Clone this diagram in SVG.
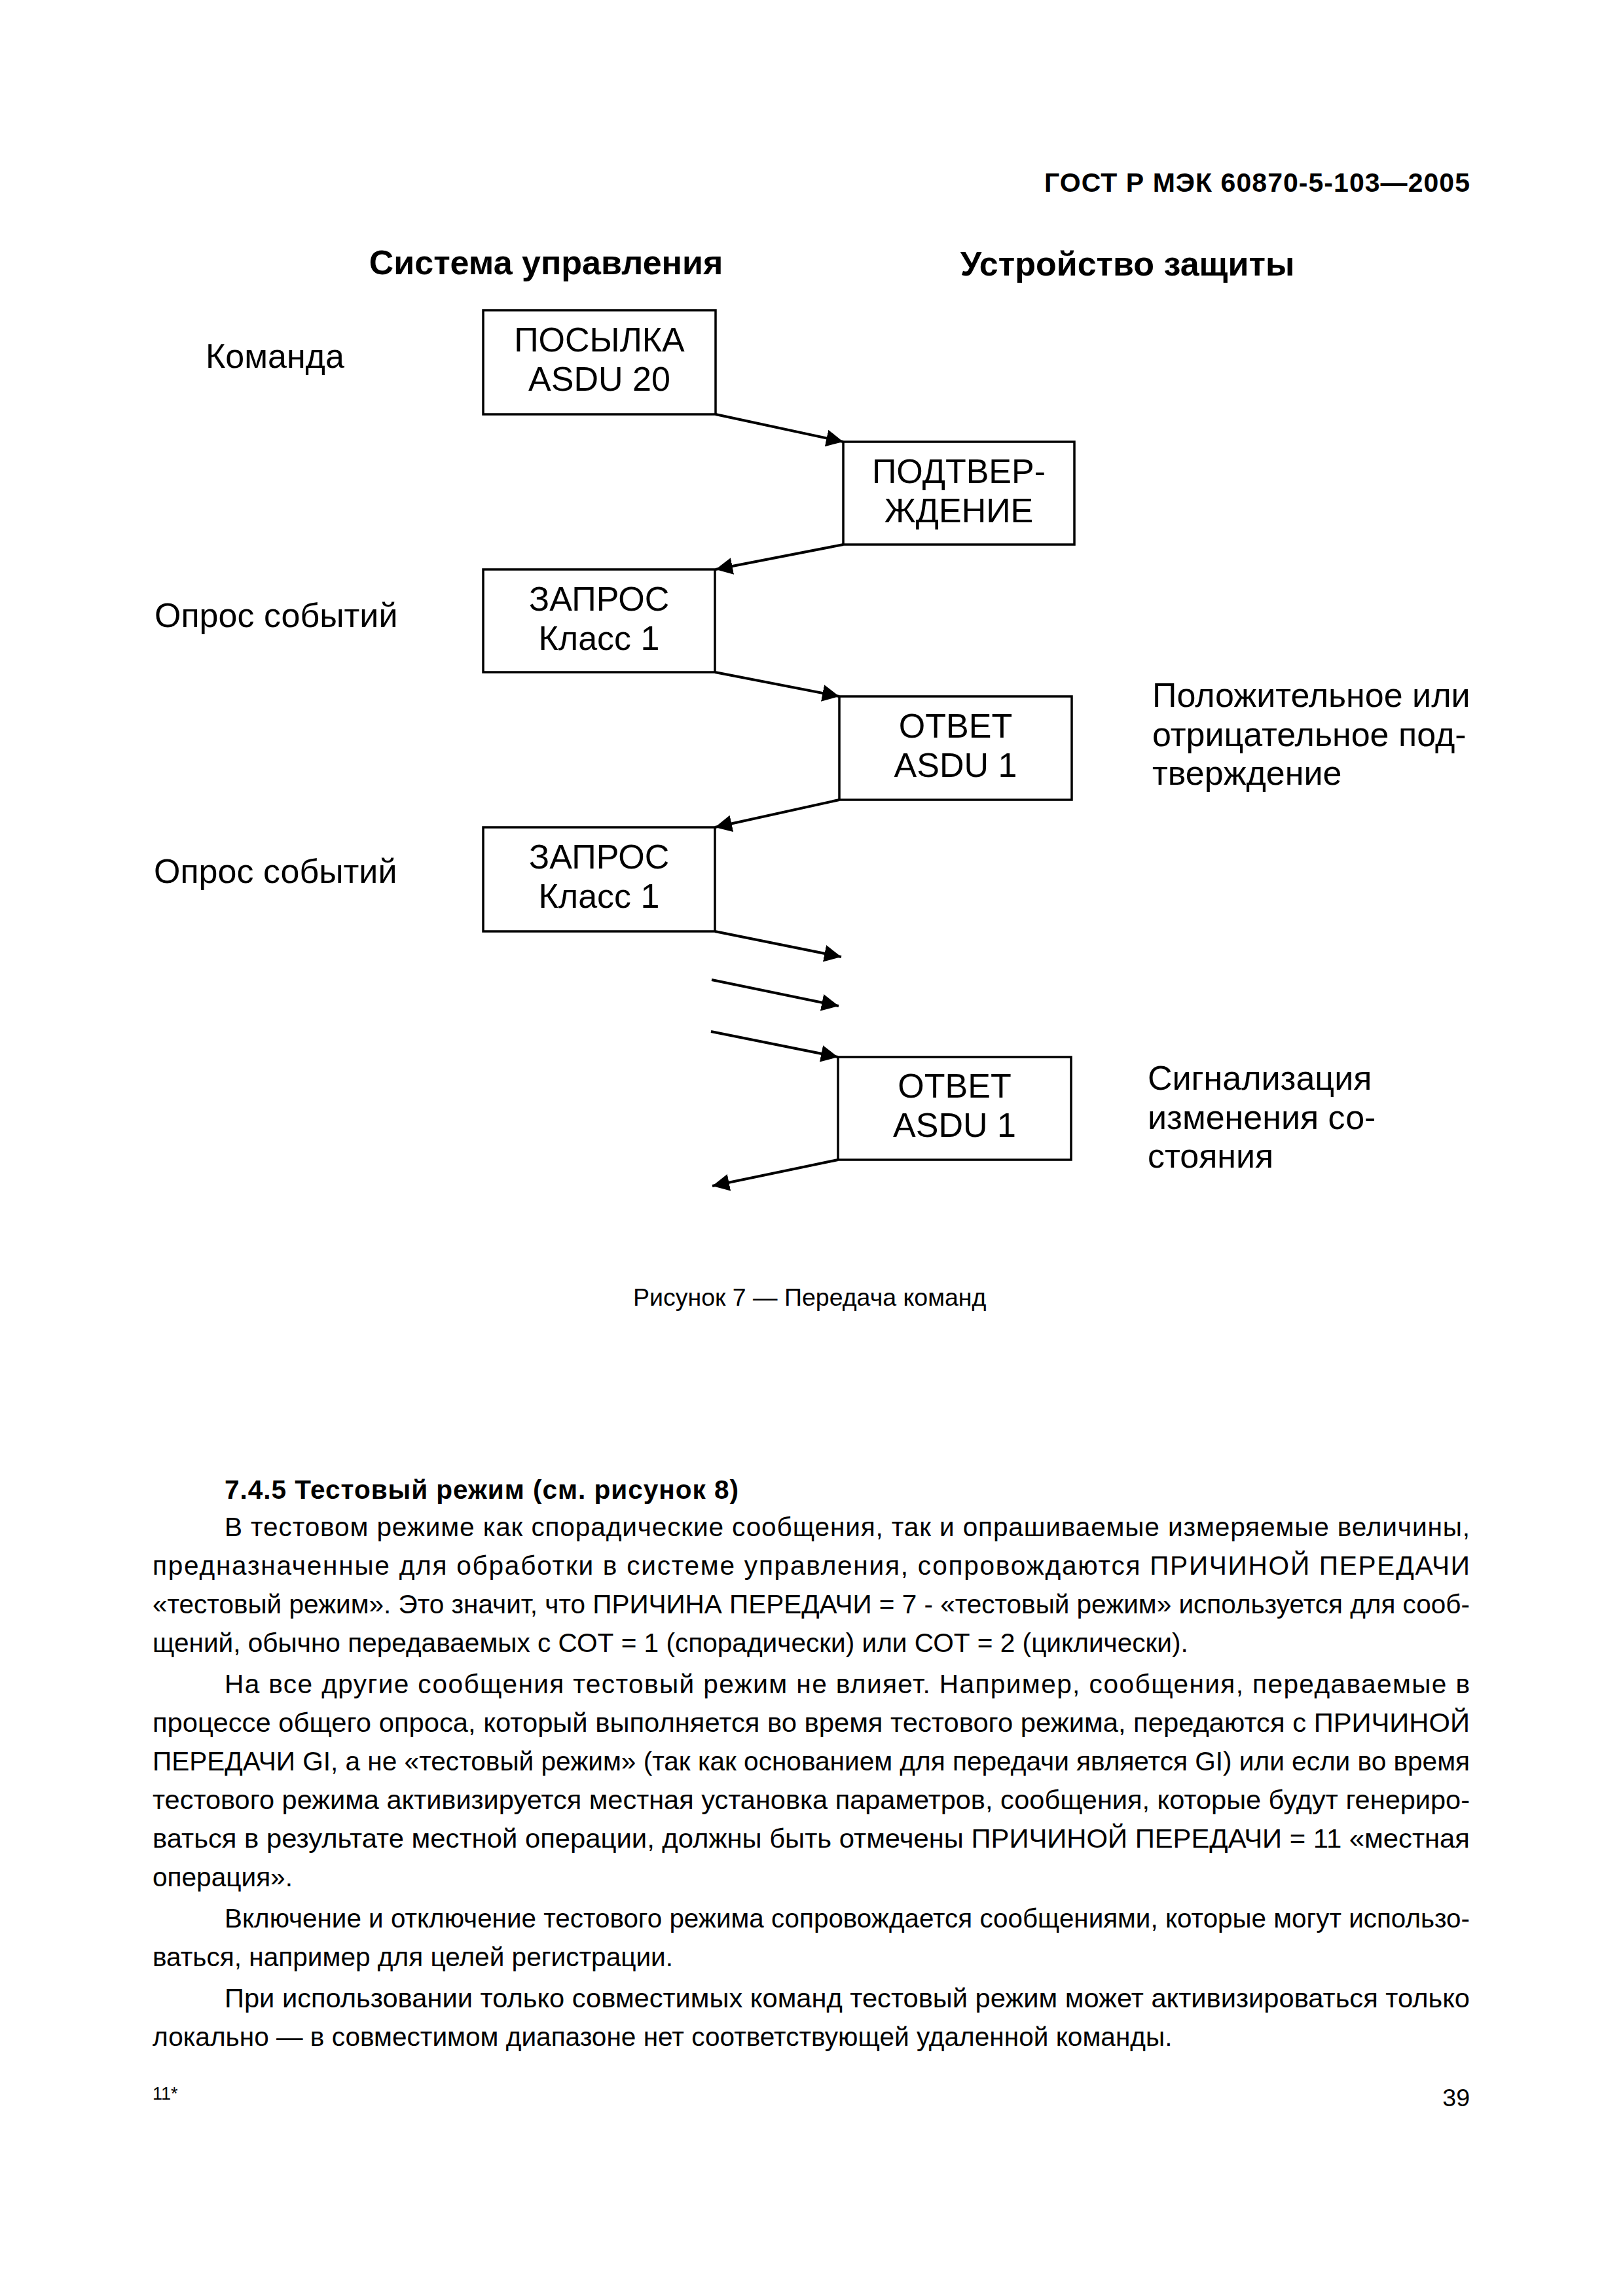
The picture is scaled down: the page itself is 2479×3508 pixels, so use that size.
<svg xmlns="http://www.w3.org/2000/svg" width="2479" height="3508" viewBox="0 0 2479 3508">
<style>
text{font-family:"Liberation Sans",Arial,sans-serif;fill:#000}
.hdr{font-size:41px;font-weight:bold}
.col{font-size:52px;font-weight:bold;text-anchor:middle}
.box{fill:#fff;stroke:#000;stroke-width:3.5}
.bt{font-size:52px;text-anchor:middle}
.lbl{font-size:52px}
.cap{font-size:37.5px}
.body{font-size:40.6px}
.bold{font-weight:bold}
.conn line{stroke:#000;stroke-width:4;marker-end:url(#ah)}
</style>
<defs>
<marker id="ah" markerUnits="userSpaceOnUse" markerWidth="28" markerHeight="26" refX="26" refY="13" orient="auto">
<path d="M0,0 L26,13 L0,26 z" fill="#000"/>
</marker>
</defs>
<rect width="2479" height="3508" fill="#fff"/>

<text class="hdr" x="2245" y="293" text-anchor="end" textLength="650" lengthAdjust="spacing">ГОСТ Р МЭК 60870-5-103—2005</text>

<text class="col" x="834" y="419">Система управления</text>
<text class="col" x="1722" y="421">Устройство защиты</text>

<text class="lbl" x="314" y="562">Команда</text>
<text class="lbl" x="236" y="958">Опрос событий</text>
<text class="lbl" x="235" y="1349">Опрос событий</text>
<text class="lbl" x="1760" y="1080">Положительное или</text>
<text class="lbl" x="1760" y="1140">отрицательное под-</text>
<text class="lbl" x="1760" y="1199">тверждение</text>
<text class="lbl" x="1753" y="1665">Сигнализация</text>
<text class="lbl" x="1753" y="1725">изменения со-</text>
<text class="lbl" x="1753" y="1784">стояния</text>

<g id="n1">
<rect class="box" x="738" y="474" width="355" height="159"/>
<text class="bt" x="915.5" y="537">ПОСЫЛКА</text>
<text class="bt" x="915.5" y="597">ASDU 20</text>
</g>
<g id="n2">
<rect class="box" x="1288" y="675" width="353" height="157"/>
<text class="bt" x="1464.5" y="738">ПОДТВЕР-</text>
<text class="bt" x="1464.5" y="798">ЖДЕНИЕ</text>
</g>
<g id="n3">
<rect class="box" x="738" y="870" width="354" height="157"/>
<text class="bt" x="915" y="933">ЗАПРОС</text>
<text class="bt" x="915" y="993">Класс 1</text>
</g>
<g id="n4">
<rect class="box" x="1282" y="1064" width="355" height="158"/>
<text class="bt" x="1459.5" y="1127">ОТВЕТ</text>
<text class="bt" x="1459.5" y="1187">ASDU 1</text>
</g>
<g id="n5">
<rect class="box" x="738" y="1264" width="354" height="159"/>
<text class="bt" x="915" y="1327">ЗАПРОС</text>
<text class="bt" x="915" y="1387">Класс 1</text>
</g>
<g id="n6">
<rect class="box" x="1280" y="1615" width="356" height="157"/>
<text class="bt" x="1458" y="1677">ОТВЕТ</text>
<text class="bt" x="1458" y="1737">ASDU 1</text>
</g>

<g id="connectors" class="conn">
<line x1="1093" y1="633" x2="1288" y2="675"/>
<line x1="1288" y1="832" x2="1093" y2="870"/>
<line x1="1092" y1="1027" x2="1282" y2="1064"/>
<line x1="1282" y1="1222" x2="1092" y2="1264"/>
<line x1="1092" y1="1423" x2="1285" y2="1462"/>
<line x1="1087" y1="1497" x2="1281" y2="1537"/>
<line x1="1086" y1="1576" x2="1280" y2="1615"/>
<line x1="1280" y1="1772" x2="1088" y2="1812"/>
</g>

<text class="cap" x="967" y="1995">Рисунок 7 — Передача команд</text>

<g id="bodytext" class="body">
<text class="body bold" x="343" y="2290" textLength="785" lengthAdjust="spacing">7.4.5 Тестовый режим (см. рисунок 8)</text>
<text class="body" x="343" y="2347" textLength="1902" lengthAdjust="spacing">В тестовом режиме как спорадические сообщения, так и опрашиваемые измеряемые величины,</text>
<text class="body" x="233" y="2406" textLength="2012" lengthAdjust="spacing">предназначенные для обработки в системе управления, сопровождаются ПРИЧИНОЙ ПЕРЕДАЧИ</text>
<text class="body" x="233" y="2465" textLength="2012" lengthAdjust="spacingAndGlyphs">«тестовый режим». Это значит, что ПРИЧИНА ПЕРЕДАЧИ = 7 - «тестовый режим» используется для сооб-</text>
<text class="body" x="233" y="2524">щений, обычно передаваемых с СОТ = 1 (спорадически) или СОТ = 2 (циклически).</text>
<text class="body" x="343" y="2587" textLength="1902" lengthAdjust="spacing">На все другие сообщения тестовый режим не влияет. Например, сообщения, передаваемые в</text>
<text class="body" x="233" y="2646" textLength="2012" lengthAdjust="spacingAndGlyphs">процессе общего опроса, который выполняется во время тестового режима, передаются с ПРИЧИНОЙ</text>
<text class="body" x="233" y="2705" textLength="2012" lengthAdjust="spacingAndGlyphs">ПЕРЕДАЧИ GI, а не «тестовый режим» (так как основанием для передачи является GI) или если во время</text>
<text class="body" x="233" y="2764" textLength="2012" lengthAdjust="spacingAndGlyphs">тестового режима активизируется местная установка параметров, сообщения, которые будут генериро-</text>
<text class="body" x="233" y="2823" textLength="2012" lengthAdjust="spacingAndGlyphs">ваться в результате местной операции, должны быть отмечены ПРИЧИНОЙ ПЕРЕДАЧИ = 11 «местная</text>
<text class="body" x="233" y="2882">операция».</text>
<text class="body" x="343" y="2945" textLength="1902" lengthAdjust="spacingAndGlyphs">Включение и отключение тестового режима сопровождается сообщениями, которые могут использо-</text>
<text class="body" x="233" y="3004">ваться, например для целей регистрации.</text>
<text class="body" x="343" y="3067" textLength="1902" lengthAdjust="spacingAndGlyphs">При использовании только совместимых команд тестовый режим может активизироваться только</text>
<text class="body" x="233" y="3126">локально — в совместимом диапазоне нет соответствующей удаленной команды.</text>
</g>

<text x="233" y="3208" font-size="27">11*</text>
<text x="2245" y="3218" font-size="37.5" text-anchor="end">39</text>
</svg>
